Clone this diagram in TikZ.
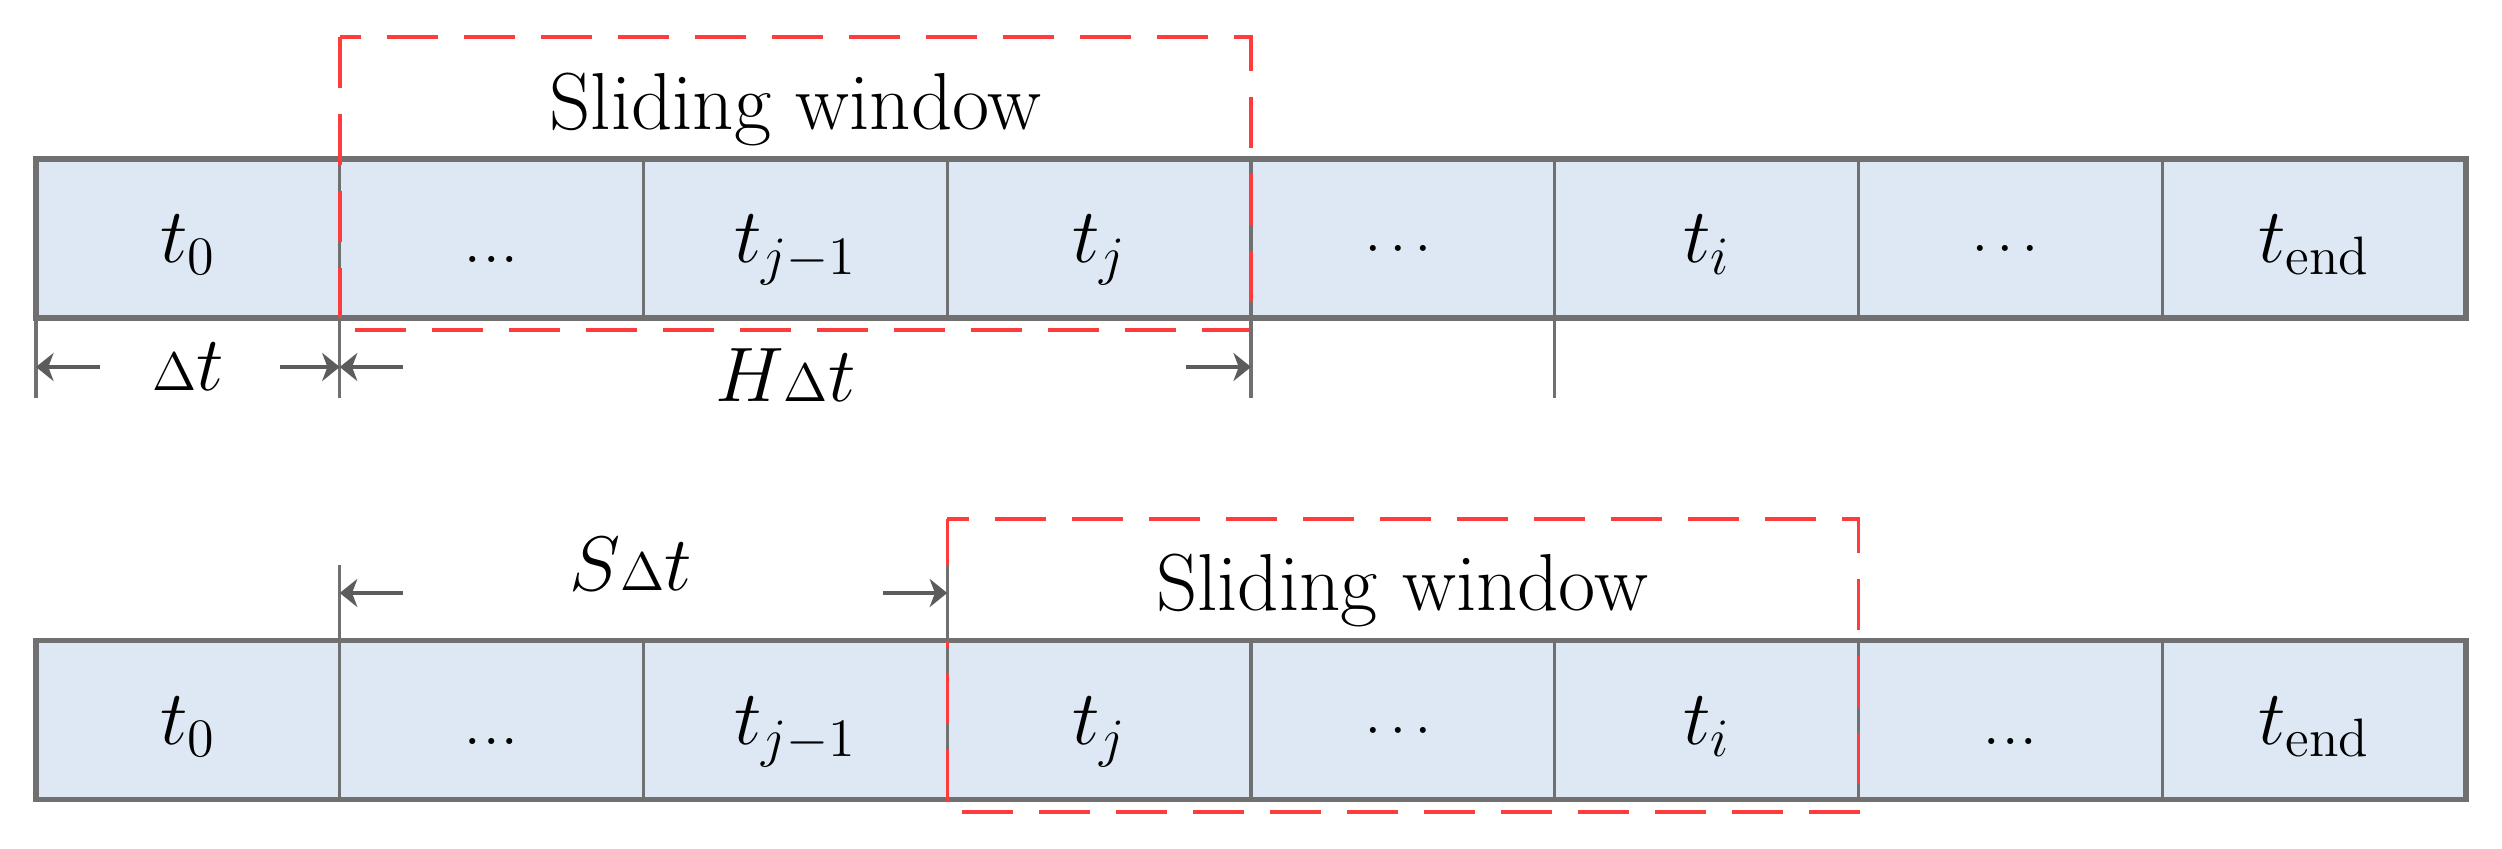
\RequirePackage{fix-cm}
\documentclass[tikz,border=0pt]{standalone}
\usepackage{amsmath}
\usetikzlibrary{arrows.meta,positioning,calc}
\definecolor{cellfill}{HTML}{DDE8F4}
\definecolor{cellline}{HTML}{707070}
\definecolor{winred}{HTML}{FF3C3C}
\definecolor{dimgray}{HTML}{5C5C5C}
\newcommand{\lowdots}{{\fontsize{21}{24}\selectfont...}}
\newcommand{\middots}{{\fontsize{16}{18}\selectfont$\cdots$}}
\newcommand{\dstep}{{\scriptstyle\Delta}}

\begin{document}
\begin{tikzpicture}[
    cell/.style={draw=cellline, fill=cellfill, line width=0.9pt, minimum width=3.0375cm,
      minimum height=1.59cm, inner sep=0pt, outer sep=0pt, text height=0.55cm,
      text depth=0.06cm, font=\fontsize{22}{26}\selectfont},
    rowframe/.style={draw=cellline, line width=1.6pt},
    win/.style={draw=winred, line width=1pt, dash pattern=on 0.51cm off 0.26cm},
    tickline/.style={draw=cellline, line width=0.9pt},
    dim/.style={-{Stealth[length=5pt, width=8pt, inset=1.5pt]}, draw=dimgray, line width=1.2pt},
    lbl/.style={font=\fontsize{22}{26}\selectfont, inner sep=0pt, anchor=base},
    wintitle/.style={font=\fontsize{23}{28}\selectfont, inner sep=0pt, anchor=base},
  ]
  \useasboundingbox (0,0) rectangle (25.02,8.48);

  % upper time line: window covers t_{j-H+1} .. t_j
  \node[cell, anchor=west] (a1) at (0.36,6.095) {$t_0$};
  \node[cell, right=0pt of a1] (a2) {\lowdots};
  \node[cell, right=0pt of a2] (a3) {$t_{j-1}$};
  \node[cell, right=0pt of a3] (a4) {$t_j$};
  \node[cell, right=0pt of a4] (a5) {\middots};
  \node[cell, right=0pt of a5] (a6) {$t_i$};
  \node[cell, right=0pt of a6] (a7) {\middots};
  \node[cell, right=0pt of a7] (a8) {$t_{\mathrm{end}}$};
  \draw[rowframe] (a1.north west) rectangle (a8.south east);

  % lower time line: window moved on by S steps
  \node[cell, anchor=west] (b1) at (0.36,1.28) {$t_0$};
  \node[cell, right=0pt of b1] (b2) {\lowdots};
  \node[cell, right=0pt of b2] (b3) {$t_{j-1}$};
  \node[cell, right=0pt of b3] (b4) {$t_j$};
  \node[cell, right=0pt of b4] (b5) {\middots};
  \node[cell, right=0pt of b5] (b6) {$t_i$};
  \node[cell, right=0pt of b6] (b7) {\lowdots};
  \node[cell, right=0pt of b7] (b8) {$t_{\mathrm{end}}$};
  \draw[rowframe] (b1.north west) rectangle (b8.south east);

  % sliding windows (red dashed)
  \coordinate (w1) at ($(a2.north west)+(0,1.22)$);
  \coordinate (w2) at ($(a4.south east)+(0,-0.12)$);
  \draw[win] (w1) rectangle (w2);
  \node[wintitle] (s1) at (7.955,7.18) {Sliding window};

  \coordinate (w3) at ($(b4.north west)+(0,1.215)$);
  \coordinate (w4) at ($(b6.south east)+(0,-0.125)$);
  \draw[win] (w3) rectangle (w4);
  \node[wintitle] (s2) at (14.02,2.38) {Sliding window};

  % ticks below upper line, above lower line
  \draw[tickline] (a1.south west) -- ++(0,-0.80);
  \draw[tickline] (a2.south west) -- ++(0,-0.80);
  \draw[tickline] (a5.south west) -- ++(0,-0.80);
  \draw[tickline] (a6.south west) -- ++(0,-0.80);
  \draw[tickline] (b2.north west) -- ++(0,0.755);
  \draw[tickline] (b4.north west) -- ++(0,0.755);

  % dimension arrows
  \coordinate (d0) at ($(a1.south west)+(0,-0.49)$);
  \coordinate (d1) at ($(a2.south west)+(0,-0.49)$);
  \coordinate (d4) at ($(a5.south west)+(0,-0.49)$);
  \draw[dim] ([xshift=0.64cm]d0) -- (d0);
  \draw[dim] ([xshift=-0.60cm]d1) -- (d1);
  \draw[dim] ([xshift=0.63cm]d1) -- (d1);
  \draw[dim] ([xshift=-0.65cm]d4) -- (d4);
  \node[lbl] (dt) at ($(a1.south)+(0,-0.72)$) {$\dstep t$};
  \node[lbl] (ht) at ($(a3.south)+(-0.1,-0.84)$) {$H\dstep t$};

  \coordinate (e1) at ($(b2.north west)+(0,0.475)$);
  \coordinate (e3) at ($(b4.north west)+(0,0.475)$);
  \draw[dim] ([xshift=0.63cm]e1) -- (e1);
  \draw[dim] ([xshift=-0.64cm]e3) -- (e3);
  \node[lbl] (st) at ($(b3.north west)+(-0.125,0.505)$) {$S\dstep t$};
\end{tikzpicture}
\end{document}
